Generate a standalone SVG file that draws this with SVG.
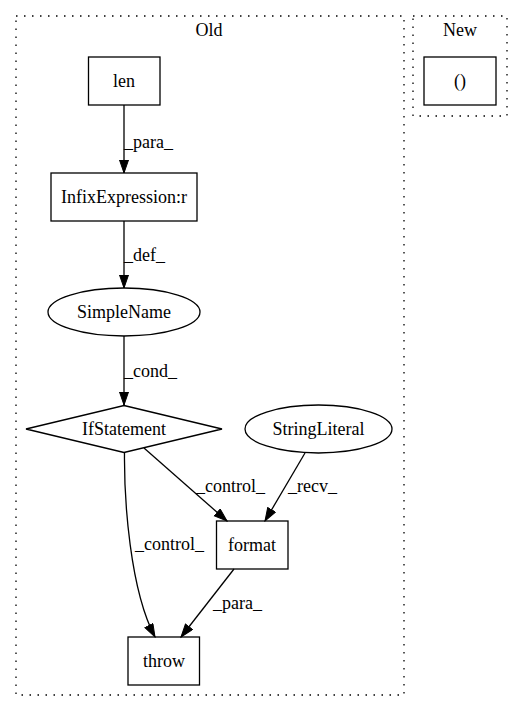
<svg xmlns="http://www.w3.org/2000/svg" width="527" height="712" viewBox="0 0 527 712">
<style>
text{font-family:"Liberation Serif","Times New Roman",serif;font-size:18px;fill:#000}
.c{text-anchor:middle}
.n{fill:none;stroke:#000;stroke-width:1.3}
.cl{fill:none;stroke:#000;stroke-width:1.3;stroke-dasharray:1.5,6.5}
.e{fill:none;stroke:#000;stroke-width:1.3}
</style>
<defs>
<marker id="ah" markerUnits="userSpaceOnUse" markerWidth="15" markerHeight="12" refX="13.5" refY="5" orient="auto">
<polygon points="0.5,0.5 13.5,5 0.5,9.5" fill="#000" stroke="#000" stroke-width="1"/>
</marker>
</defs>
<rect width="527" height="712" fill="#fff"/>
<g id="cluster_old">
<rect class="cl" x="16" y="16" width="388" height="679"/>
<text class="c" x="209" y="36">Old</text>
</g>
<g id="cluster_new">
<rect class="cl" x="413" y="16" width="94" height="100"/>
<text class="c" x="460" y="36">New</text>
</g>
<g id="connectors">
<path class="e" d="M124,105 L124,173" marker-end="url(#ah)"/>
<text x="124" y="148">_para_</text>
<path class="e" d="M124,221 L124,288" marker-end="url(#ah)"/>
<text x="124" y="260.5">_def_</text>
<path class="e" d="M124,336 L124,405" marker-end="url(#ah)"/>
<text x="124" y="377">_cond_</text>
<path class="e" d="M144,448 L227,521" marker-end="url(#ah)"/>
<text x="196" y="492">_control_</text>
<path class="e" d="M305,453 L265,521" marker-end="url(#ah)"/>
<text x="288" y="492">_recv_</text>
<path class="e" d="M124.5,452 C124,500 130,590 155,637" marker-end="url(#ah)"/>
<text x="135" y="550">_control_</text>
<path class="e" d="M234,569 L181,637" marker-end="url(#ah)"/>
<text x="213" y="609">_para_</text>
</g>
<g id="len">
<rect class="n" x="88.5" y="57" width="71.5" height="48"/>
<text class="c" x="124" y="86.5">len</text>
</g>
<g id="paren">
<rect class="n" x="424" y="57" width="72" height="48"/>
<text class="c" x="460" y="86.5">()</text>
</g>
<g id="infix">
<rect class="n" x="51" y="173" width="146" height="48"/>
<text class="c" x="124" y="202.5">InfixExpression:r</text>
</g>
<g id="simplename">
<ellipse class="n" cx="124" cy="312" rx="76" ry="24"/>
<text class="c" x="124" y="317.5">SimpleName</text>
</g>
<g id="ifstatement">
<polygon class="n" points="124,405.5 222,429 124,452.5 26,429"/>
<text class="c" x="124" y="434.5">IfStatement</text>
</g>
<g id="stringliteral">
<ellipse class="n" cx="318.5" cy="429" rx="73.5" ry="24"/>
<text class="c" x="318.5" y="434.5">StringLiteral</text>
</g>
<g id="format">
<rect class="n" x="216.5" y="521" width="71.5" height="48"/>
<text class="c" x="252" y="550.5">format</text>
</g>
<g id="throw">
<rect class="n" x="128" y="637" width="71.5" height="48"/>
<text class="c" x="164" y="666.5">throw</text>
</g>
</svg>
